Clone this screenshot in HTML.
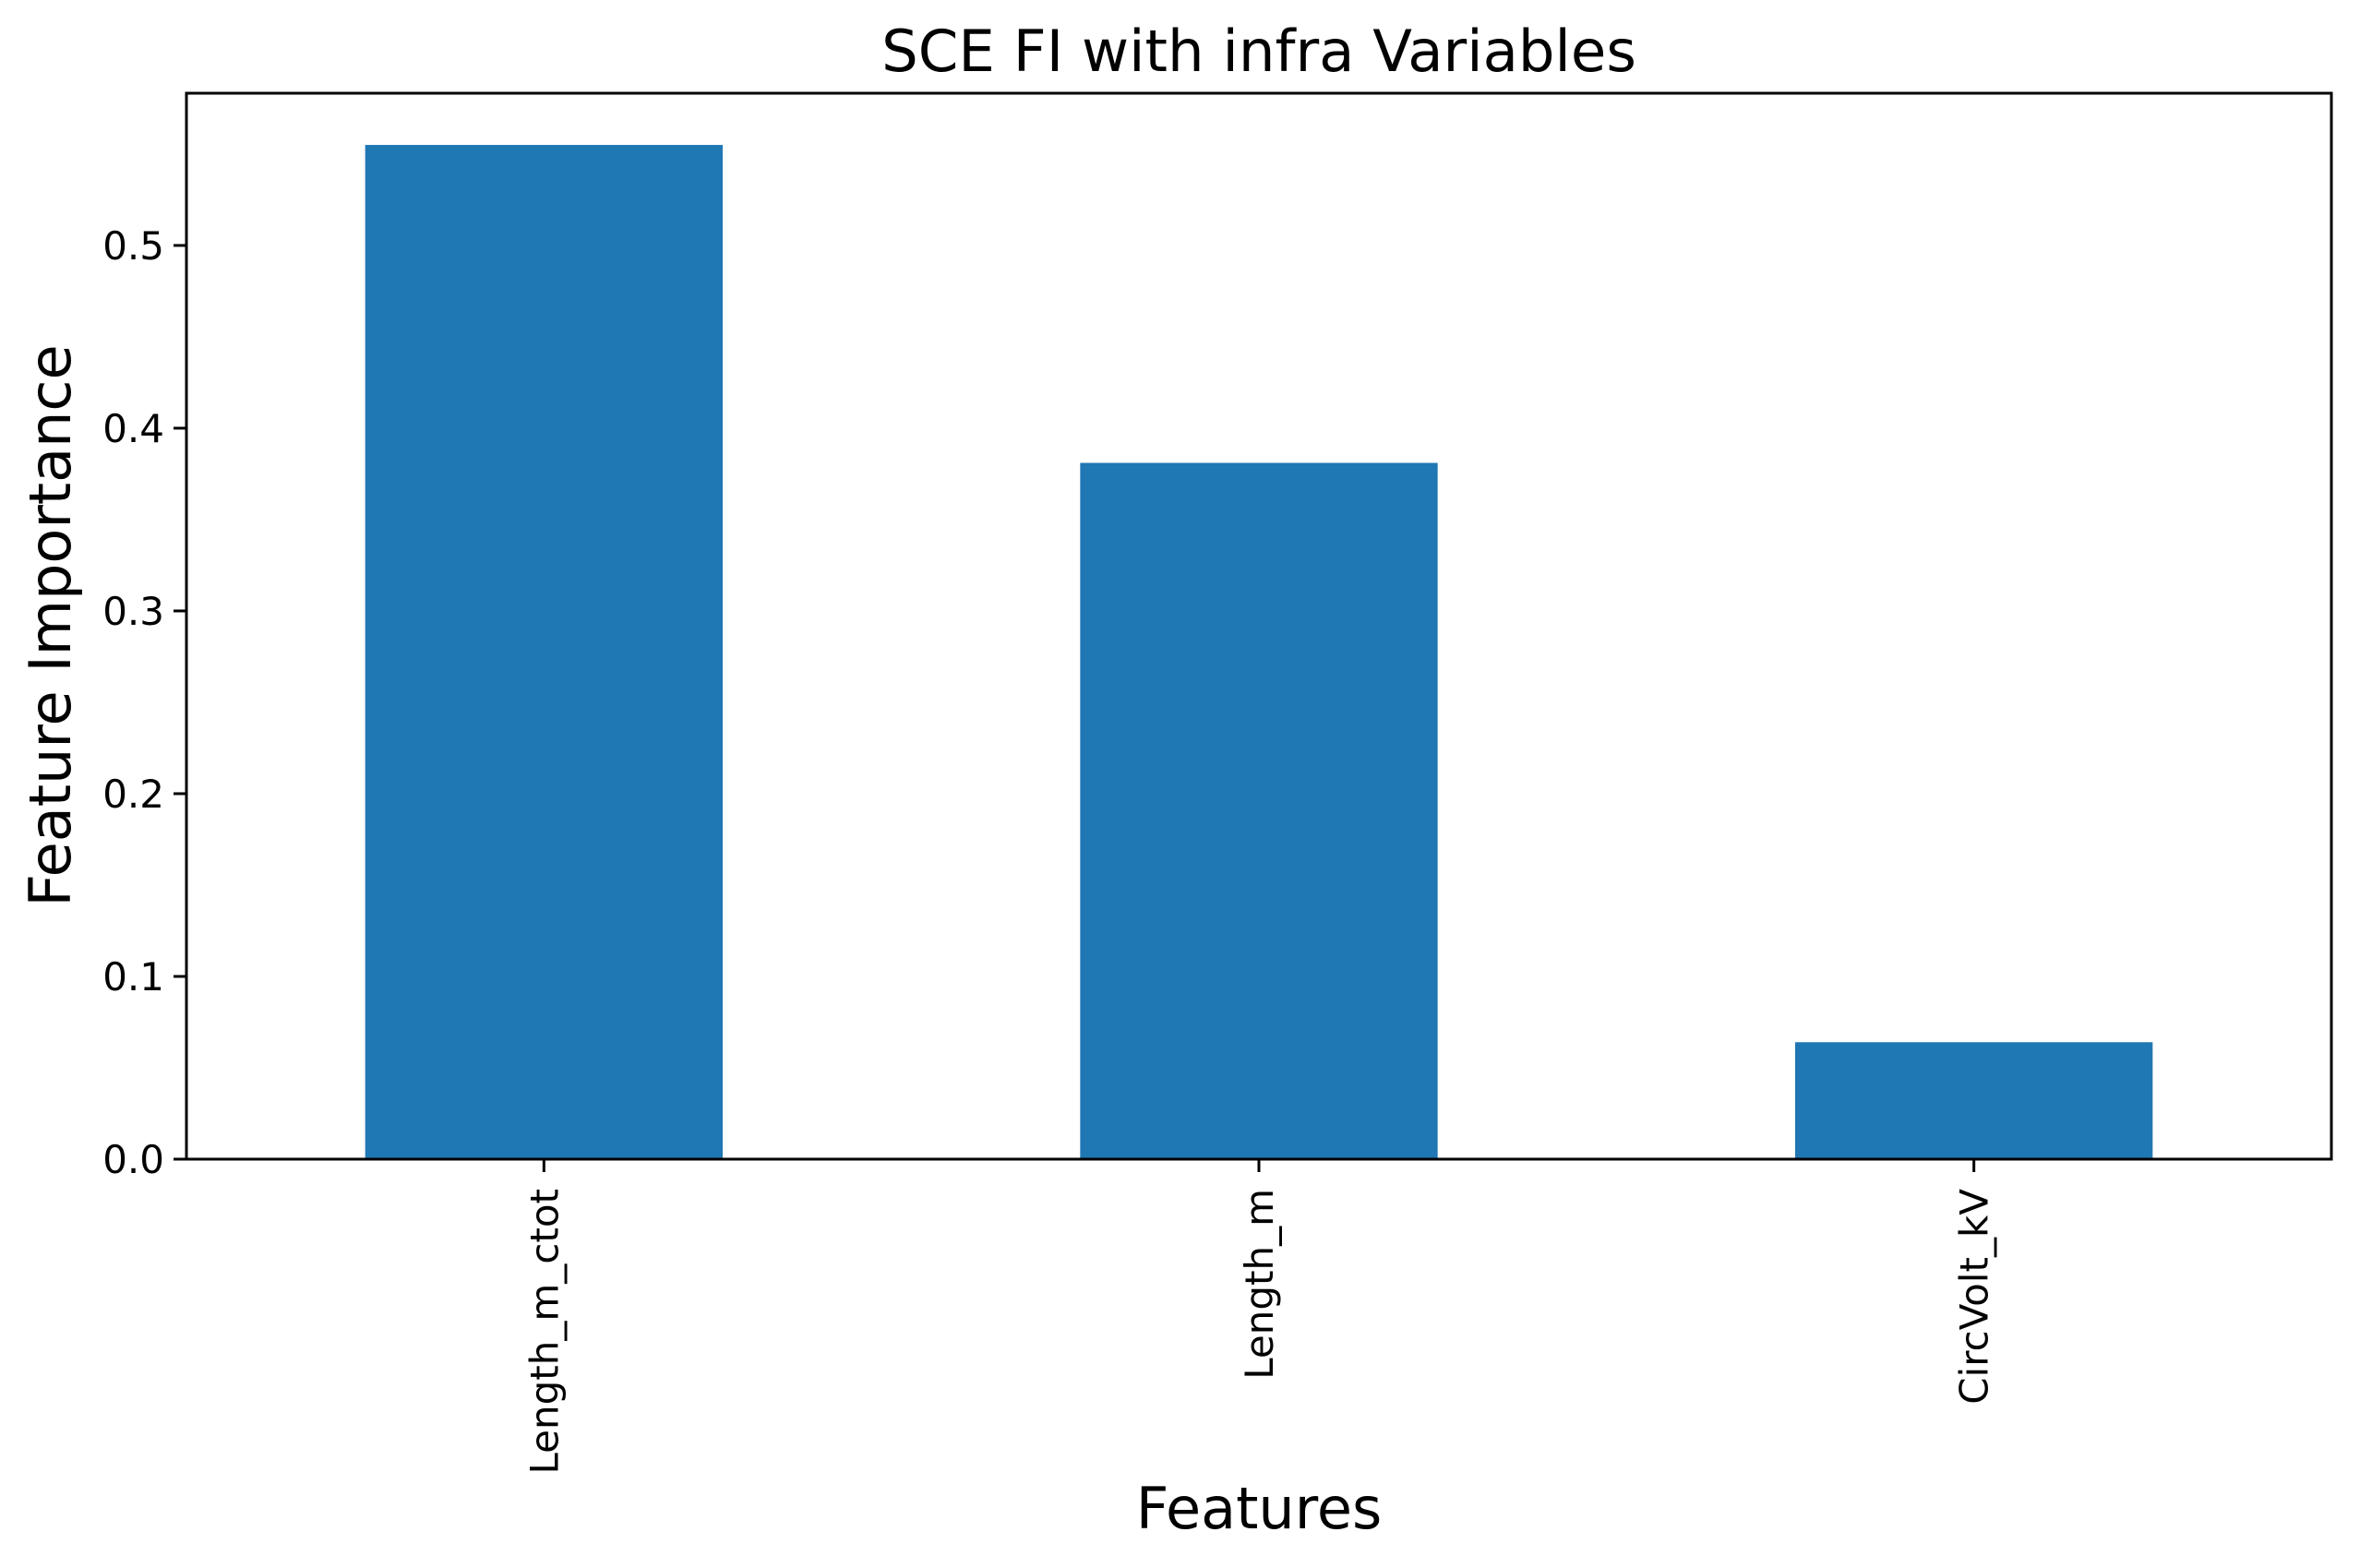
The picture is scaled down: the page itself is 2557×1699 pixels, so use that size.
<!DOCTYPE html>
<html><head><meta charset="utf-8"><style>
html,body{margin:0;padding:0;background:#fff;}
svg{display:block;font-family:"DejaVu Sans","Liberation Sans",sans-serif;}
</style></head><body>
<svg id="chart" width="2557" height="1699" viewBox="0 0 2557 1699" xmlns="http://www.w3.org/2000/svg">
<rect width="2557" height="1699" fill="#fff"/>
<text x="1364" y="77" font-size="62.5" text-anchor="middle">SCE FI with infra Variables</text>
<g id="plot"></g>
<text x="1364" y="1656" font-size="62" text-anchor="middle">Features</text>
<text transform="translate(76,678) rotate(-90)" font-size="62" text-anchor="middle">Feature Importance</text>
</svg>
<script>
const categories = ["Length_m_ctot", "Length_m", "CircVolt_kV"];
const values = [0.555, 0.381, 0.064];
const yTicks = [0, 0.1, 0.2, 0.3, 0.4, 0.5];
const yTickLabels = ["0.0", "0.1", "0.2", "0.3", "0.4", "0.5"];

const L = 202, R = 2526, T = 101, B = 1256;
const yMax = 0.5833;
const NS = "http://www.w3.org/2000/svg";
const plot = document.getElementById('plot');
function xScale(i){ return L + (i + 0.5) / categories.length * (R - L); }
function yScale(v){ return B - v / yMax * (B - T); }
const unit = (R - L) / categories.length;
function mk(tag, attrs){ const e = document.createElementNS(NS, tag); for (const k in attrs) e.setAttribute(k, attrs[k]); return e; }

values.forEach((v, i) => {
  const r = mk('rect', {x: xScale(i) - unit * 0.25, y: yScale(v), width: unit * 0.5, height: B - yScale(v), fill: '#1f77b4'});
  
  
  plot.appendChild(r);
});
yTicks.forEach((t, i) => {
  const y = yScale(t);
  const ln = mk('line', {x1: L - 14, x2: L, y1: y, y2: y, stroke: '#000', 'stroke-width': 3});
  
  
  plot.appendChild(ln);
  const tx = mk('text', {x: L - 24, y: y + 15, 'font-size': 42, 'text-anchor': 'end'});
  tx.textContent = yTickLabels[i];
  
  
  plot.appendChild(tx);
});
categories.forEach((c, i) => {
  const x = xScale(i);
  const ln = mk('line', {x1: x, x2: x, y1: B, y2: B + 14, stroke: '#000', 'stroke-width': 3});
  
  
  plot.appendChild(ln);
  const tx = mk('text', {transform: 'translate(' + (x + 15) + ',' + (B + 32) + ') rotate(-90)', 'font-size': 42, 'text-anchor': 'end'});
  tx.textContent = c;
  
  
  plot.appendChild(tx);
});
const frame = mk('rect', {x: L, y: T, width: R - L, height: B - T, fill: 'none', stroke: '#000', 'stroke-width': 3});


plot.appendChild(frame);
</script>
</body></html>
